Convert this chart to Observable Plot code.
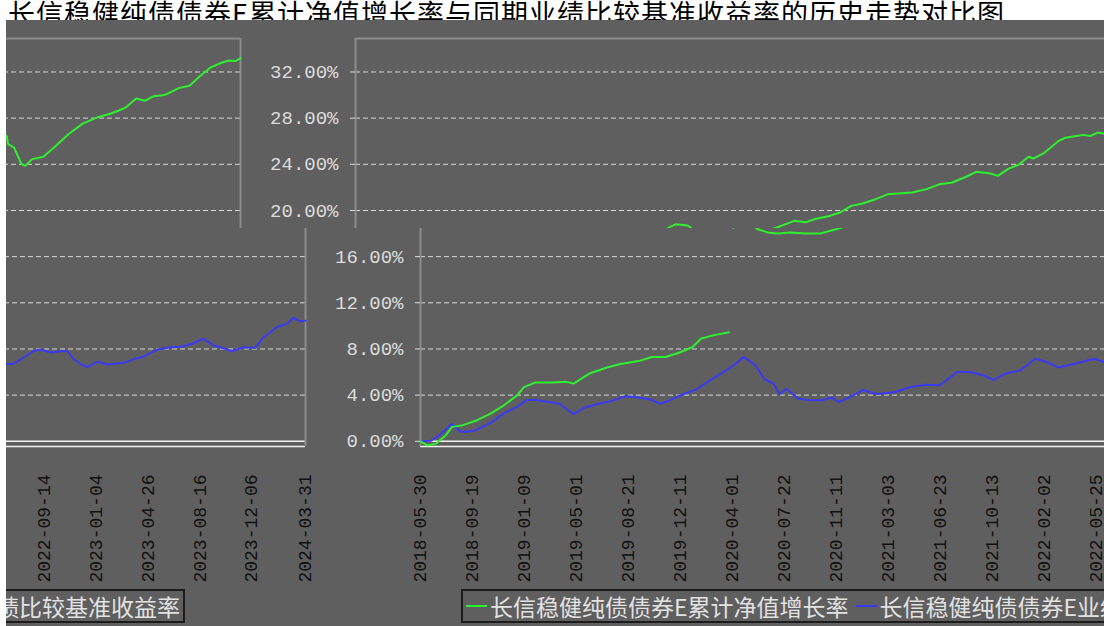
<!DOCTYPE html>
<html><head><meta charset="utf-8">
<script src="https://cdn.jsdelivr.net/npm/d3@7"></script>
<script src="https://cdn.jsdelivr.net/npm/@observablehq/plot@0.6"></script>
<style>
html,body{margin:0;padding:0;background:#5f5f5f;}
#stage{position:relative;width:1104px;height:626px;overflow:hidden;background:#5f5f5f;}
#title{position:absolute;left:0;top:0;width:1104px;height:20px;background:#fff;overflow:hidden;}
#title span{display:block;white-space:nowrap;font:27px "Noto Sans CJK SC";line-height:28px;letter-spacing:1px;color:#000;padding-left:8px;margin-top:-1px;}
#stripe{position:absolute;left:0;top:20px;width:6px;height:606px;background:#fff;}
.legend{position:absolute;left:156px;top:589px;width:828px;height:34px;box-sizing:border-box;border:2px solid #1c1c1c;font:23px "Noto Sans CJK SC";color:#e2e2e2;display:flex;align-items:center;white-space:nowrap;}
.legend .sw{display:inline-block;width:21px;height:2px;margin-right:3px;}
</style></head><body>
<div id="stage"><div id="title"><span></span></div></div>
<script>
const titleText = "长信稳健纯债债券E累计净值增长率与同期业绩比较基准收益率的历史走势对比图";
const fundName = "长信稳健纯债债券E累计净值增长率";
const benchName = "长信稳健纯债债券E业绩比较基准收益率";
const fundColor = "#2ef02e";
const benchColor = "#3a3af0";

const tickDates = ["2018-05-30","2018-09-19","2019-01-09","2019-05-01","2019-08-21","2019-12-11","2020-04-01","2020-07-22","2020-11-11","2021-03-03","2021-06-23","2021-10-13","2022-02-02","2022-05-25","2022-09-14","2023-01-04","2023-04-26","2023-08-16","2023-12-06","2024-03-31"];
const yTicks = [0,4,8,12,16,20,24,28,32];

const fundDates = ["2018-05-30","2018-06-14","2018-07-03","2018-07-23","2018-08-06","2018-08-30","2018-09-27","2018-10-28","2018-11-25","2018-12-25","2019-01-08","2019-02-02","2019-03-12","2019-04-09","2019-04-25","2019-05-28","2019-07-06","2019-08-04","2019-09-12","2019-10-11","2019-11-09","2019-12-07","2020-01-06","2020-01-25","2020-02-22","2020-03-25","2020-03-30","2020-04-03","2020-04-19","2020-05-15","2020-05-25","2020-06-16","2020-07-08","2020-08-04","2020-09-06","2020-10-08","2020-11-22","2020-12-31","2021-01-24","2021-02-14","2021-03-19","2021-04-09","2021-05-03","2021-05-27","2021-06-26","2021-07-20","2021-09-11","2021-10-12","2021-11-11","2021-12-05","2022-01-04","2022-01-27","2022-02-27","2022-03-15","2022-04-06","2022-04-30","2022-05-20","2022-05-30","2022-06-23","2022-07-23","2022-08-07","2022-08-31","2022-09-15","2022-09-30","2022-10-16","2022-10-30","2022-11-13","2022-11-16","2022-11-29","2022-12-15","2022-12-23","2023-01-07","2023-01-31","2023-02-23","2023-03-26","2023-04-25","2023-05-26","2023-06-26","2023-07-27","2023-08-19","2023-09-07","2023-09-26","2023-10-19","2023-11-19","2023-12-12","2024-01-04","2024-01-27","2024-02-19","2024-03-06","2024-03-21","2024-03-31"];
const fundValues = [0,-0.35,-0.2,0.5,1.25,1.4,1.8,2.4,3.1,4.0,4.7,5.1,5.1,5.15,5.0,5.85,6.4,6.7,6.95,7.3,7.3,7.65,8.15,8.9,9.2,9.45,null,18.5,18.8,18.7,18.4,18.1,18.0,18.1,18.0,18.0,18.5,19.1,18.97,19.26,19.55,19.83,20.4,20.6,21.0,21.4,21.56,21.85,22.3,22.4,22.9,23.35,23.2,23.0,23.6,24.0,24.65,24.5,25.0,26.0,26.3,26.45,26.55,26.45,26.75,26.65,26.46,25.75,25.45,24.0,23.87,24.45,24.65,25.45,26.6,27.5,28.05,28.4,28.9,29.7,29.5,29.9,30.0,30.6,30.8,31.65,32.4,32.8,33.0,32.95,33.2];

const benchDates = ["2018-05-30","2018-06-22","2018-07-12","2018-08-05","2018-08-26","2018-09-23","2018-10-28","2018-11-25","2018-12-25","2019-01-13","2019-02-02","2019-03-02","2019-03-26","2019-04-25","2019-05-18","2019-06-18","2019-07-16","2019-08-15","2019-09-12","2019-10-10","2019-10-29","2019-11-18","2019-12-18","2020-01-15","2020-02-14","2020-03-13","2020-04-08","2020-04-26","2020-05-21","2020-06-09","2020-06-29","2020-07-12","2020-07-27","2020-08-20","2020-09-14","2020-10-12","2020-11-01","2020-11-16","2020-12-10","2021-01-08","2021-02-06","2021-03-17","2021-04-20","2021-05-22","2021-06-22","2021-07-30","2021-08-27","2021-09-26","2021-10-16","2021-11-09","2021-12-13","2022-01-14","2022-02-09","2022-03-05","2022-04-07","2022-05-22","2022-06-12","2022-06-28","2022-07-10","2022-08-05","2022-08-22","2022-09-07","2022-09-28","2022-10-20","2022-11-04","2022-11-15","2022-12-02","2022-12-17","2023-01-08","2023-01-29","2023-03-05","2023-03-26","2023-04-17","2023-05-17","2023-06-14","2023-07-06","2023-07-31","2023-08-24","2023-09-15","2023-09-30","2023-10-25","2023-11-18","2023-12-14","2023-12-31","2024-01-30","2024-02-21","2024-03-05","2024-03-20","2024-03-31"];
const benchValues = [0,0.05,0.6,1.5,0.8,0.9,1.6,2.4,3.0,3.55,3.6,3.4,3.25,2.35,2.9,3.25,3.5,3.9,3.8,3.6,3.25,3.55,4.1,4.5,5.3,6.0,6.7,7.3,6.6,5.4,5.0,4.1,4.55,3.7,3.55,3.55,3.8,3.4,3.8,4.45,4.1,4.25,4.7,4.9,4.85,6.0,6.0,5.7,5.3,5.85,6.15,7.15,6.85,6.4,6.7,7.15,6.85,6.7,6.7,7.35,7.8,7.95,7.7,7.8,7.8,7.2,6.7,6.43,6.9,6.65,6.8,7.1,7.35,7.95,8.15,8.2,8.45,8.9,8.3,8.15,7.8,8.15,8.1,9.0,9.9,10.2,10.7,10.4,10.45];

const W = 1104, H = 626;
const parse = d3.utcParse("%Y-%m-%d");
const fund = fundDates.map((d, i) => ({date: parse(d), value: fundValues[i]}));
const bench = benchDates.map((d, i) => ({date: parse(d), value: benchValues[i]}));
const xDomain = [parse(tickDates[0]), parse(tickDates[tickDates.length - 1])];
const yDomain = [-0.45, 34.9];

const chart = Plot.plot({
  width: W, height: H,
  marginTop: 38, marginBottom: 180, marginLeft: 115, marginRight: 0,
  style: {background: "transparent", fontFamily: "'Liberation Mono', monospace", fontSize: "19px", overflow: "visible"},
  x: {type: "utc", domain: xDomain},
  y: {domain: yDomain},
  marks: [
    Plot.gridY({ticks: yTicks.filter(t => t > 0), stroke: "#d9d9d9", strokeOpacity: 1, strokeDasharray: "5,3"}),
    Plot.ruleY([0], {stroke: "#f2f2f2", strokeWidth: 1.5}),
    Plot.ruleY([yDomain[0]], {stroke: "#f2f2f2", strokeWidth: 1.5}),
    Plot.ruleY([yDomain[1]], {stroke: "#8c8c8c", strokeWidth: 2}),
    Plot.ruleX(xDomain, {stroke: "#8c8c8c", strokeWidth: 2}),
    Plot.line(bench, {x: "date", y: "value", stroke: benchColor, strokeWidth: 2}),
    Plot.line(fund, {x: "date", y: "value", stroke: fundColor, strokeWidth: 2}),
    Plot.axisY({ticks: yTicks, tickFormat: d => d.toFixed(2) + "%", tickSize: 5, tickPadding: 12, color: "#dcdcdc", fontSize: 19}),
    Plot.axisX({ticks: tickDates.map(parse), tickFormat: d3.utcFormat("%Y-%m-%d"), tickRotate: -90, tickSize: 0, tickPadding: 28, color: "#111", fontSize: 18})
  ]
});

const real = document.createElement("div");
real.style.cssText = `position:absolute;left:0;top:0;width:${W}px;height:${H}px;`;
real.appendChild(chart);
const legend = document.createElement("div");
legend.className = "legend";
legend.innerHTML = `<span class="sw" style="background:${fundColor};margin-left:3px"></span><span>${fundName}</span>` +
  `<span class="sw" style="background:${benchColor};margin-left:7px"></span><span>${benchName}</span>`;
real.appendChild(legend);

const stage = document.getElementById("stage");
document.querySelector("#title span").textContent = titleText;
// the reference picture shows each horizontal band of the chart rolled sideways
const bands = [[20, 228, 240], [228, 626, 305]];
bands.forEach(([top, bottom, shift]) => {
  const win = document.createElement("div");
  win.style.cssText = `position:absolute;left:0;top:${top}px;width:${W}px;height:${bottom - top}px;overflow:hidden;`;
  [shift, shift - W].forEach(dx => {
    const c = real.cloneNode(true);
    c.style.left = dx + "px";
    c.style.top = (-top) + "px";
    win.appendChild(c);
  });
  stage.appendChild(win);
});
const stripe = document.createElement("div");
stripe.id = "stripe";
stage.appendChild(stripe);
</script>
</body></html>
